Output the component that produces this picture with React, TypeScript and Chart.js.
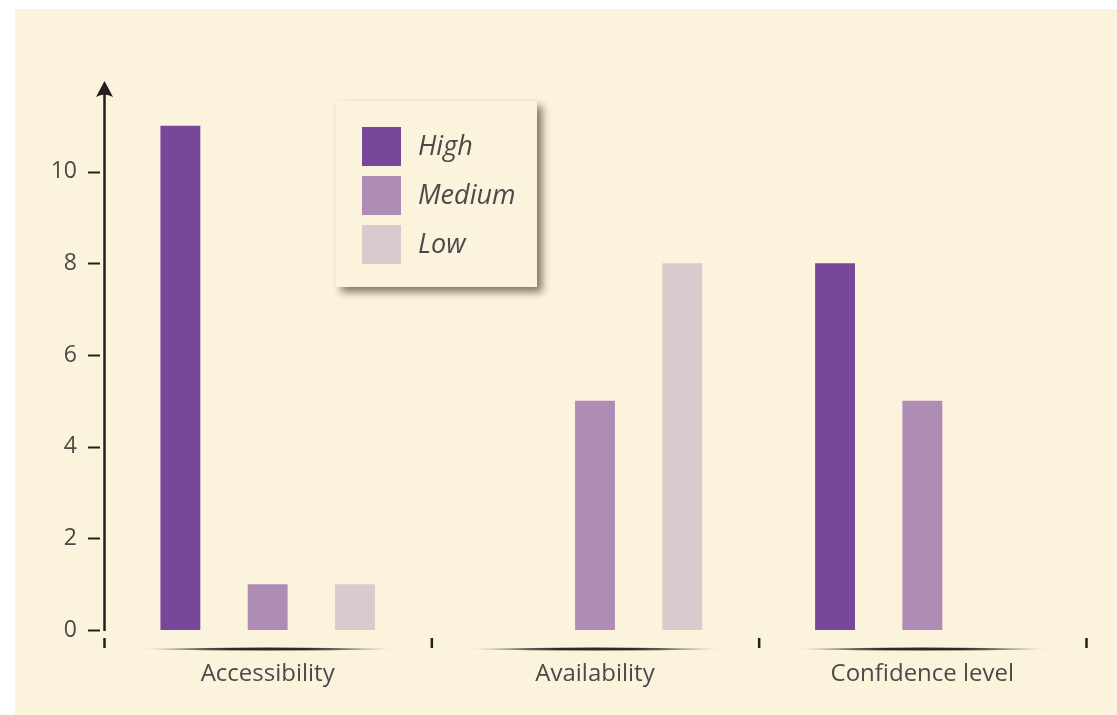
import React, { useEffect, useRef } from "react";
import { Chart, registerables } from "chart.js";

Chart.register(...registerables);

const categories = ["Accessibility", "Availability", "Confidence level"];
const seriesNames = ["High", "Medium", "Low"];
const highValues = [11, 0, 8];
const mediumValues = [1, 5, 5];
const lowValues = [1, 8, 0];
const seriesColors = ["#77479b", "#af8cb6", "#dacacd"];
const yTicks = [0, 2, 4, 6, 8, 10];

const BG = "#fcf3dc";
const INK = "#231f20";
const TEXT = "#4a4a4a";
const FONT = "'Open Sans', 'Noto Sans', sans-serif";

const decorPlugin = {
  id: "decor",
  beforeDraw(chart: any) {
    const { ctx, width, height } = chart;
    ctx.save();
    ctx.fillStyle = "#ffffff";
    ctx.fillRect(0, 0, width, height);
    ctx.fillStyle = BG;
    ctx.fillRect(15, 9, width - 15, height - 9);
    ctx.restore();
  },
  afterDraw(chart: any) {
    const { ctx, chartArea } = chart;
    const x = chart.scales.x;
    const y = chart.scales.y;
    ctx.save();
    const ax = chartArea.left + 0.5;
    const y0 = y.getPixelForValue(0);
    const yTop = y.getPixelForValue(y.max);
    // y axis line
    ctx.strokeStyle = INK;
    ctx.lineWidth = 2.5;
    ctx.beginPath();
    ctx.moveTo(ax, y0 + 1);
    ctx.lineTo(ax, yTop + 12);
    ctx.stroke();
    // arrow head
    ctx.fillStyle = INK;
    ctx.beginPath();
    ctx.moveTo(ax, yTop + 1);
    ctx.lineTo(ax + 8.5, yTop + 17);
    ctx.quadraticCurveTo(ax, yTop + 12, ax - 8.5, yTop + 17);
    ctx.closePath();
    ctx.fill();
    // y tick dashes
    ctx.lineWidth = 2;
    for (const v of yTicks) {
      const py = Math.round(y.getPixelForValue(v)) + 0.5;
      ctx.beginPath();
      ctx.moveTo(ax - 16.5, py);
      ctx.lineTo(ax - 4.5, py);
      ctx.stroke();
    }
    // x boundary ticks
    const n = categories.length;
    const cw = (chartArea.right - chartArea.left) / n;
    ctx.lineWidth = 2.5;
    for (let i = 0; i <= n; i++) {
      const c = i < n ? x.getPixelForValue(i) - cw / 2 : x.getPixelForValue(n - 1) + cw / 2;
      ctx.beginPath();
      ctx.moveTo(c + 0.5, y0 + 8);
      ctx.lineTo(c + 0.5, y0 + 18);
      ctx.stroke();
    }
    // lens lines under categories
    for (let i = 0; i < n; i++) {
      const cx = x.getPixelForValue(i);
      const hw = 126;
      const ly = y0 + 19;
      const g = ctx.createLinearGradient(cx - hw, 0, cx + hw, 0);
      g.addColorStop(0, "rgba(35,31,32,0.15)");
      g.addColorStop(0.35, "rgba(35,31,32,0.95)");
      g.addColorStop(0.65, "rgba(35,31,32,0.95)");
      g.addColorStop(1, "rgba(35,31,32,0.15)");
      ctx.fillStyle = g;
      ctx.beginPath();
      ctx.moveTo(cx - hw, ly);
      ctx.quadraticCurveTo(cx, ly - 3.2, cx + hw, ly);
      ctx.quadraticCurveTo(cx, ly + 3.2, cx - hw, ly);
      ctx.closePath();
      ctx.fill();
    }
    // legend
    const lx = 336, ly0 = 101, lw = 201, lh = 186;
    ctx.save();
    ctx.shadowColor = "rgba(40,30,20,0.6)";
    ctx.shadowBlur = 8;
    ctx.shadowOffsetX = 5;
    ctx.shadowOffsetY = 5;
    ctx.fillStyle = BG;
    ctx.fillRect(lx, ly0, lw, lh);
    ctx.restore();
    ctx.font = `italic 27px ${FONT}`;
    ctx.textBaseline = "middle";
    ctx.textAlign = "left";
    chart.data.datasets.forEach((ds: any, i: number) => {
      const sy = 127 + i * 49;
      ctx.fillStyle = ds.backgroundColor;
      ctx.fillRect(362, sy, 39, 39);
      ctx.fillStyle = TEXT;
      ctx.fillText(ds.label, 418, sy + 20);
    });
    ctx.restore();
  },
};

export default function App() {
  const ref = useRef<HTMLCanvasElement>(null);
  useEffect(() => {
    document.body.style.margin = "0";
    const values = [highValues, mediumValues, lowValues];
    const chart = new Chart(ref.current!, {
      type: "bar",
      data: {
        labels: categories,
        datasets: seriesNames.map((name, i) => ({
          label: name,
          data: values[i],
          backgroundColor: seriesColors[i],
          borderWidth: 0,
          categoryPercentage: 0.8,
          barPercentage: 0.457,
        })),
      },
      options: {
        animation: false,
        responsive: false,
        maintainAspectRatio: false,
        layout: { padding: { left: 0, right: 31, top: 80, bottom: 0 } },
        plugins: { legend: { display: false }, tooltip: { enabled: false } },
        scales: {
          x: {
            grid: { display: false, drawTicks: false },
            border: { display: false },
            ticks: {
              padding: 30,
              color: TEXT,
              font: { family: FONT, size: 24 },
              maxRotation: 0,
            },
            afterFit: (s: any) => {
              s.height = 85;
            },
          },
          y: {
            min: 0,
            max: 12,
            grid: { display: false, drawTicks: false },
            border: { display: false },
            afterBuildTicks: (s: any) => {
              s.ticks = yTicks.map((v) => ({ value: v }));
            },
            ticks: {
              padding: 27,
              color: TEXT,
              font: { family: FONT, size: 23 },
            },
            afterFit: (s: any) => {
              s.width = 104;
            },
          },
        },
      },
      plugins: [decorPlugin],
    });
    return () => chart.destroy();
  }, []);
  return <canvas ref={ref} width={1117} height={715} style={{ display: "block", width: 1117, height: 715 }} />;
}
